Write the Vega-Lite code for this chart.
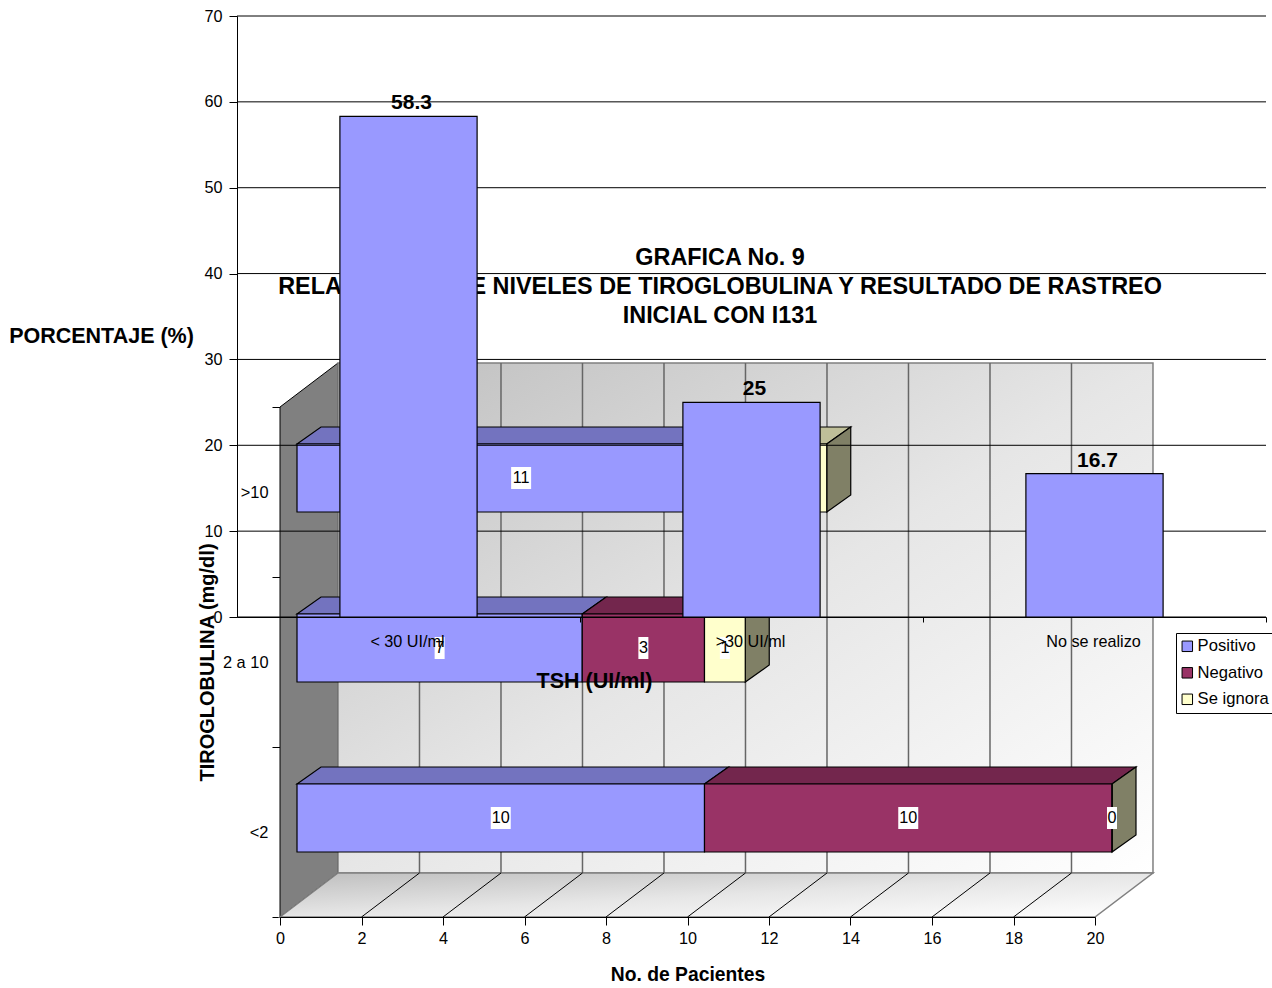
{
  "$schema": "https://vega.github.io/schema/vega-lite/v6.json",
  "width": 1029,
  "height": 601,
  "padding": {"left": 237, "top": 16, "right": 6, "bottom": 371},
  "autosize": "none",
  "background": "white",
  "config": {
    "font": "Liberation Sans",
    "view": {"stroke": null},
    "axis": {"labelColor": "#000", "titleColor": "#000", "tickColor": "#000", "domainColor": "#000", "grid": false, "labelOverlap": false, "labelBound": false, "labelFlush": false}
  },
  "datasets": {
    "pacientes": [
      {"tiroglobulina": "<2", "resultado": "Positivo", "n": 10, "orden": 1, "centro": 5},
      {"tiroglobulina": "<2", "resultado": "Negativo", "n": 10, "orden": 2, "centro": 15},
      {"tiroglobulina": "<2", "resultado": "Se ignora", "n": 0, "orden": 3, "centro": 20},
      {"tiroglobulina": "2 a 10", "resultado": "Positivo", "n": 7, "orden": 1, "centro": 3.5},
      {"tiroglobulina": "2 a 10", "resultado": "Negativo", "n": 3, "orden": 2, "centro": 8.5},
      {"tiroglobulina": "2 a 10", "resultado": "Se ignora", "n": 1, "orden": 3, "centro": 10.5},
      {"tiroglobulina": ">10", "resultado": "Positivo", "n": 11, "orden": 1, "centro": 5.5},
      {"tiroglobulina": ">10", "resultado": "Negativo", "n": 1, "orden": 2, "centro": 11.5},
      {"tiroglobulina": ">10", "resultado": "Se ignora", "n": 1, "orden": 3, "centro": 12.5}
    ],
    "porcentaje": [
      {"tsh": "< 30 UI/ml", "pct": 58.3},
      {"tsh": ">30 UI/ml", "pct": 25},
      {"tsh": "No se realizo", "pct": 16.7}
    ],
    "rejilla": [{"v": 0}, {"v": 10}, {"v": 20}, {"v": 30}, {"v": 40}, {"v": 50}, {"v": 60}, {"v": 70}],
    "encabezado": [
      {"renglon": "GRAFICA No. 9", "nivel": 41.8},
      {"renglon": "RELACION ENTRE NIVELES DE TIROGLOBULINA Y RESULTADO DE RASTREO", "nivel": 38.45},
      {"renglon": "INICIAL CON I131", "nivel": 35.1}
    ],
    "pared_izquierda": [
      {"x": 0, "sup": 3, "inf": 0},
      {"x": 1.423, "sup": 3.2588, "inf": 0.2588}
    ],
    "pared_fondo": [
      {"x": 1.423, "sup": 3.2588, "inf": 0.2588},
      {"x": 21.423, "sup": 3.2588, "inf": 0.2588}
    ],
    "piso": [
      {"x": 0, "sup": 0, "inf": 0},
      {"x": 1.423, "sup": 0.2588, "inf": 0},
      {"x": 20, "sup": 0.2588, "inf": 0},
      {"x": 21.423, "sup": 0.2588, "inf": 0.2588}
    ],
    "lineas_fondo": [
      {"x": 3.423}, {"x": 5.423}, {"x": 7.423}, {"x": 9.423}, {"x": 11.423},
      {"x": 13.423}, {"x": 15.423}, {"x": 17.423}, {"x": 19.423}
    ],
    "lineas_piso": [
      {"x": 2, "x2": 3.423}, {"x": 4, "x2": 5.423}, {"x": 6, "x2": 7.423},
      {"x": 8, "x2": 9.423}, {"x": 10, "x2": 11.423}, {"x": 12, "x2": 13.423},
      {"x": 14, "x2": 15.423}, {"x": 16, "x2": 17.423}, {"x": 18, "x2": 19.423}
    ],
    "caras_superiores": [
      {"segmento": "a1", "resultado": "Positivo", "x": 0.417, "sup": 0.7824, "inf": 0.7824},
      {"segmento": "a1", "resultado": "Positivo", "x": 1.006, "sup": 0.8824, "inf": 0.7824},
      {"segmento": "a1", "resultado": "Positivo", "x": 10.417, "sup": 0.8824, "inf": 0.7824},
      {"segmento": "a1", "resultado": "Positivo", "x": 11.006, "sup": 0.8824, "inf": 0.8824},
      {"segmento": "a2", "resultado": "Negativo", "x": 10.417, "sup": 0.7824, "inf": 0.7824},
      {"segmento": "a2", "resultado": "Negativo", "x": 11.006, "sup": 0.8824, "inf": 0.7824},
      {"segmento": "a2", "resultado": "Negativo", "x": 20.417, "sup": 0.8824, "inf": 0.7824},
      {"segmento": "a2", "resultado": "Negativo", "x": 21.006, "sup": 0.8824, "inf": 0.8824},
      {"segmento": "b1", "resultado": "Positivo", "x": 0.417, "sup": 1.7824, "inf": 1.7824},
      {"segmento": "b1", "resultado": "Positivo", "x": 1.006, "sup": 1.8824, "inf": 1.7824},
      {"segmento": "b1", "resultado": "Positivo", "x": 7.417, "sup": 1.8824, "inf": 1.7824},
      {"segmento": "b1", "resultado": "Positivo", "x": 8.006, "sup": 1.8824, "inf": 1.8824},
      {"segmento": "b2", "resultado": "Negativo", "x": 7.417, "sup": 1.7824, "inf": 1.7824},
      {"segmento": "b2", "resultado": "Negativo", "x": 8.006, "sup": 1.8824, "inf": 1.7824},
      {"segmento": "b2", "resultado": "Negativo", "x": 10.417, "sup": 1.8824, "inf": 1.7824},
      {"segmento": "b2", "resultado": "Negativo", "x": 11.006, "sup": 1.8824, "inf": 1.8824},
      {"segmento": "b3", "resultado": "Se ignora", "x": 10.417, "sup": 1.7824, "inf": 1.7824},
      {"segmento": "b3", "resultado": "Se ignora", "x": 11.006, "sup": 1.8824, "inf": 1.7824},
      {"segmento": "b3", "resultado": "Se ignora", "x": 11.417, "sup": 1.8824, "inf": 1.7824},
      {"segmento": "b3", "resultado": "Se ignora", "x": 12.006, "sup": 1.8824, "inf": 1.8824},
      {"segmento": "c1", "resultado": "Positivo", "x": 0.417, "sup": 2.7824, "inf": 2.7824},
      {"segmento": "c1", "resultado": "Positivo", "x": 1.006, "sup": 2.8824, "inf": 2.7824},
      {"segmento": "c1", "resultado": "Positivo", "x": 11.417, "sup": 2.8824, "inf": 2.7824},
      {"segmento": "c1", "resultado": "Positivo", "x": 12.006, "sup": 2.8824, "inf": 2.8824},
      {"segmento": "c2", "resultado": "Negativo", "x": 11.417, "sup": 2.7824, "inf": 2.7824},
      {"segmento": "c2", "resultado": "Negativo", "x": 12.006, "sup": 2.8824, "inf": 2.7824},
      {"segmento": "c2", "resultado": "Negativo", "x": 12.417, "sup": 2.8824, "inf": 2.7824},
      {"segmento": "c2", "resultado": "Negativo", "x": 13.006, "sup": 2.8824, "inf": 2.8824},
      {"segmento": "c3", "resultado": "Se ignora", "x": 12.417, "sup": 2.7824, "inf": 2.7824},
      {"segmento": "c3", "resultado": "Se ignora", "x": 13.006, "sup": 2.8824, "inf": 2.7824},
      {"segmento": "c3", "resultado": "Se ignora", "x": 13.417, "sup": 2.8824, "inf": 2.7824},
      {"segmento": "c3", "resultado": "Se ignora", "x": 14.006, "sup": 2.8824, "inf": 2.8824}
    ],
    "caras_laterales": [
      {"segmento": "a", "x": 20.417, "sup": 0.7824, "inf": 0.382},
      {"segmento": "a", "x": 21.006, "sup": 0.8824, "inf": 0.482},
      {"segmento": "b", "x": 11.417, "sup": 1.7824, "inf": 1.382},
      {"segmento": "b", "x": 12.006, "sup": 1.8824, "inf": 1.482},
      {"segmento": "c", "x": 13.417, "sup": 2.7824, "inf": 2.382},
      {"segmento": "c", "x": 14.006, "sup": 2.8824, "inf": 2.482}
    ]
  },
  "resolve": {
    "scale": {"x": "independent", "y": "independent", "color": "independent"},
    "axis": {"x": "independent", "y": "independent"}
  },
  "layer": [
    {
      "data": {"name": "pared_izquierda"},
      "mark": {"type": "area", "orient": "vertical", "line": false, "fill": "#808080", "stroke": "#000", "strokeWidth": 1},
      "encoding": {
        "x": {"field": "x", "type": "quantitative", "axis": null, "scale": {"domain": [0, 20], "range": [43, 858], "nice": false, "zero": false}},
        "y": {"field": "sup", "type": "quantitative", "stack": null, "axis": null, "scale": {"domain": [0, 3], "range": [901, 391], "nice": false, "zero": false}},
        "y2": {"field": "inf"}
      }
    },
    {
      "data": {"name": "pared_fondo"},
      "mark": {
        "type": "area", "orient": "vertical", "line": false, "stroke": "#808080", "strokeWidth": 1.5,
        "fill": {"gradient": "linear", "x1": 0, "y1": 0, "x2": 1, "y2": 1, "stops": [{"offset": 0, "color": "#BEBEBE"}, {"offset": 0.5, "color": "#E6E6E6"}, {"offset": 1, "color": "#FFFFFF"}]}
      },
      "encoding": {
        "x": {"field": "x", "type": "quantitative", "axis": null, "scale": {"domain": [0, 20], "range": [43, 858], "nice": false, "zero": false}},
        "y": {"field": "sup", "type": "quantitative", "stack": null, "axis": null, "scale": {"domain": [0, 3], "range": [901, 391], "nice": false, "zero": false}},
        "y2": {"field": "inf"}
      }
    },
    {
      "data": {"name": "piso"},
      "mark": {
        "type": "area", "orient": "vertical", "line": false, "stroke": "#808080", "strokeWidth": 1.5,
        "fill": {"gradient": "linear", "x1": 0, "y1": 0, "x2": 1, "y2": 1, "stops": [{"offset": 0, "color": "#BEBEBE"}, {"offset": 0.5, "color": "#E6E6E6"}, {"offset": 1, "color": "#FFFFFF"}]}
      },
      "encoding": {
        "x": {"field": "x", "type": "quantitative", "axis": null, "scale": {"domain": [0, 20], "range": [43, 858], "nice": false, "zero": false}},
        "y": {"field": "sup", "type": "quantitative", "stack": null, "axis": null, "scale": {"domain": [0, 3], "range": [901, 391], "nice": false, "zero": false}},
        "y2": {"field": "inf"}
      }
    },
    {
      "data": {"name": "lineas_fondo"},
      "mark": {"type": "rule", "color": "#666666", "strokeWidth": 1.5},
      "encoding": {
        "x": {"field": "x", "type": "quantitative", "axis": null, "scale": {"domain": [0, 20], "range": [43, 858], "nice": false, "zero": false}},
        "y": {"datum": 0.2588, "type": "quantitative", "axis": null, "scale": {"domain": [0, 3], "range": [901, 391], "nice": false, "zero": false}},
        "y2": {"datum": 3.2588}
      }
    },
    {
      "data": {"name": "lineas_piso"},
      "mark": {"type": "rule", "color": "#000", "strokeWidth": 1},
      "encoding": {
        "x": {"field": "x", "type": "quantitative", "axis": null, "scale": {"domain": [0, 20], "range": [43, 858], "nice": false, "zero": false}},
        "x2": {"field": "x2"},
        "y": {"datum": 0, "type": "quantitative", "axis": null, "scale": {"domain": [0, 3], "range": [901, 391], "nice": false, "zero": false}},
        "y2": {"datum": 0.2588}
      }
    },
    {
      "data": {"name": "caras_superiores"},
      "mark": {"type": "area", "orient": "vertical", "line": false, "stroke": "#000", "strokeWidth": 1.2},
      "encoding": {
        "x": {"field": "x", "type": "quantitative", "axis": null, "scale": {"domain": [0, 20], "range": [43, 858], "nice": false, "zero": false}},
        "y": {"field": "sup", "type": "quantitative", "stack": null, "axis": null, "scale": {"domain": [0, 3], "range": [901, 391], "nice": false, "zero": false}},
        "y2": {"field": "inf"},
        "color": {"field": "resultado", "type": "nominal", "legend": null, "scale": {"domain": ["Positivo", "Negativo", "Se ignora"], "range": ["#7373BF", "#73264D", "#BFBF99"]}},
        "detail": {"field": "segmento"}
      }
    },
    {
      "data": {"name": "caras_laterales"},
      "mark": {"type": "area", "orient": "vertical", "line": false, "fill": "#808066", "stroke": "#000", "strokeWidth": 1.2},
      "encoding": {
        "x": {"field": "x", "type": "quantitative", "axis": null, "scale": {"domain": [0, 20], "range": [43, 858], "nice": false, "zero": false}},
        "y": {"field": "sup", "type": "quantitative", "stack": null, "axis": null, "scale": {"domain": [0, 3], "range": [901, 391], "nice": false, "zero": false}},
        "y2": {"field": "inf"},
        "detail": {"field": "segmento"}
      }
    },
    {
      "data": {"name": "pacientes"},
      "mark": {"type": "bar", "height": 68, "stroke": "#000", "strokeWidth": 1.2, "xOffset": 17, "x2Offset": 17, "yOffset": -14},
      "encoding": {
        "x": {
          "field": "n", "type": "quantitative", "stack": "zero",
          "scale": {"domain": [0, 20], "range": [43, 858], "nice": false, "zero": false},
          "axis": {"orient": "bottom", "offset": 300, "zindex": 1, "values": [0, 2, 4, 6, 8, 10, 12, 14, 16, 18, 20], "title": "No. de Pacientes", "titleFontSize": 19.3, "titleFontWeight": "bold", "titleBaseline": "middle", "titleY": 57, "labelFontSize": 16.2, "labelPadding": 5, "tickSize": 8}
        },
        "y": {
          "field": "tiroglobulina", "type": "nominal",
          "scale": {"domain": [">10", "2 a 10", "<2"], "range": [391, 901], "paddingInner": 0, "paddingOuter": 0},
          "axis": {"orient": "left", "offset": -43, "title": "TIROGLOBULINA (mg/dl)", "titleFontSize": 20, "titleFontWeight": "bold", "titleBaseline": "middle", "titleX": -73, "labelFontSize": 16.4, "labelPadding": 4, "tickSize": 8, "tickBand": "extent", "labelAngle": 0}
        },
        "order": {"field": "orden", "type": "quantitative"},
        "color": {
          "field": "resultado", "type": "nominal",
          "scale": {"domain": ["Positivo", "Negativo", "Se ignora"], "range": ["#9999FF", "#993366", "#FFFFCC"]},
          "legend": {"title": null, "orient": "none", "legendX": 939, "legendY": 617, "strokeColor": "#000", "fillColor": "#FFF", "padding": 5, "labelFontSize": 16.6, "labelColor": "#000", "symbolType": "square", "symbolSize": 110, "symbolStrokeColor": "#000", "symbolStrokeWidth": 1, "rowPadding": 9.5, "labelOffset": 2, "symbolOffset": -2}
        }
      }
    },
    {
      "data": {"name": "pacientes"},
      "mark": {"type": "point", "filled": true, "fill": "#FFF", "stroke": null, "opacity": 1, "size": 400, "xOffset": 17, "yOffset": -14},
      "encoding": {
        "x": {"field": "centro", "type": "quantitative", "axis": null, "scale": {"domain": [0, 20], "range": [43, 858], "nice": false, "zero": false}},
        "y": {"field": "tiroglobulina", "type": "nominal", "axis": null, "scale": {"domain": [">10", "2 a 10", "<2"], "range": [391, 901], "paddingInner": 0, "paddingOuter": 0}},
        "shape": {"condition": {"test": "datum.n >= 10", "value": "M-1,-1.1H1V1.1H-1Z"}, "value": "M-0.5,-1.1H0.5V1.1H-0.5Z"}
      }
    },
    {
      "data": {"name": "pacientes"},
      "mark": {"type": "text", "fontSize": 16.2, "color": "#000", "align": "center", "baseline": "middle", "dx": 17, "dy": -14},
      "encoding": {
        "x": {"field": "centro", "type": "quantitative", "axis": null, "scale": {"domain": [0, 20], "range": [43, 858], "nice": false, "zero": false}},
        "y": {"field": "tiroglobulina", "type": "nominal", "axis": null, "scale": {"domain": [">10", "2 a 10", "<2"], "range": [391, 901], "paddingInner": 0, "paddingOuter": 0}},
        "text": {"field": "n", "type": "quantitative"}
      }
    },
    {
      "data": {"name": "rejilla"},
      "mark": {"type": "rule", "color": "#000", "strokeWidth": 1},
      "encoding": {
        "y": {"field": "v", "type": "quantitative", "axis": null, "scale": {"domain": [0, 70], "nice": false}}
      }
    },
    {
      "data": {"name": "encabezado"},
      "mark": {"type": "text", "fontSize": 23.4, "fontWeight": "bold", "color": "#000", "align": "center", "baseline": "middle", "dx": -31.5},
      "encoding": {
        "x": {"datum": ">30 UI/ml", "type": "nominal", "axis": null, "scale": {"domain": ["< 30 UI/ml", ">30 UI/ml", "No se realizo"], "paddingInner": 0.6, "paddingOuter": 0.3}},
        "y": {"field": "nivel", "type": "quantitative", "axis": null, "scale": {"domain": [0, 70], "nice": false}},
        "text": {"field": "renglon", "type": "nominal"}
      }
    },
    {
      "data": {"name": "porcentaje"},
      "mark": {"type": "bar", "fill": "#9999FF", "stroke": "#000", "strokeWidth": 1.2},
      "encoding": {
        "x": {
          "field": "tsh", "type": "nominal",
          "scale": {"domain": ["< 30 UI/ml", ">30 UI/ml", "No se realizo"], "paddingInner": 0.6, "paddingOuter": 0.3},
          "axis": {"orient": "bottom", "zindex": 1, "labelAngle": 0, "labelFontSize": 16.2, "labelPadding": 11, "tickSize": 5, "tickOffset": 171.5, "labelOffset": -173, "title": "TSH (UI/ml)", "titleFontSize": 21.5, "titleFontWeight": "bold", "titleBaseline": "middle", "titleX": 357, "titleY": 64}
        },
        "y": {
          "field": "pct", "type": "quantitative",
          "scale": {"domain": [0, 70], "nice": false},
          "axis": {"orient": "left", "zindex": 1, "values": [0, 10, 20, 30, 40, 50, 60, 70], "labelFontSize": 16.2, "labelPadding": 7, "tickSize": 8, "title": "PORCENTAJE (%)", "titleAngle": 0, "titleAlign": "center", "titleBaseline": "middle", "titleFontSize": 21.5, "titleFontWeight": "bold", "titleX": -136, "titleY": 320}
        }
      }
    },
    {
      "data": {"name": "porcentaje"},
      "mark": {"type": "text", "fontSize": 21, "fontWeight": "bold", "color": "#000", "align": "center", "baseline": "bottom", "dx": 3, "dy": -3},
      "encoding": {
        "x": {"field": "tsh", "type": "nominal", "axis": null, "scale": {"domain": ["< 30 UI/ml", ">30 UI/ml", "No se realizo"], "paddingInner": 0.6, "paddingOuter": 0.3}},
        "y": {"field": "pct", "type": "quantitative", "axis": null, "scale": {"domain": [0, 70], "nice": false}},
        "text": {"field": "pct", "type": "quantitative"}
      }
    }
  ]
}
